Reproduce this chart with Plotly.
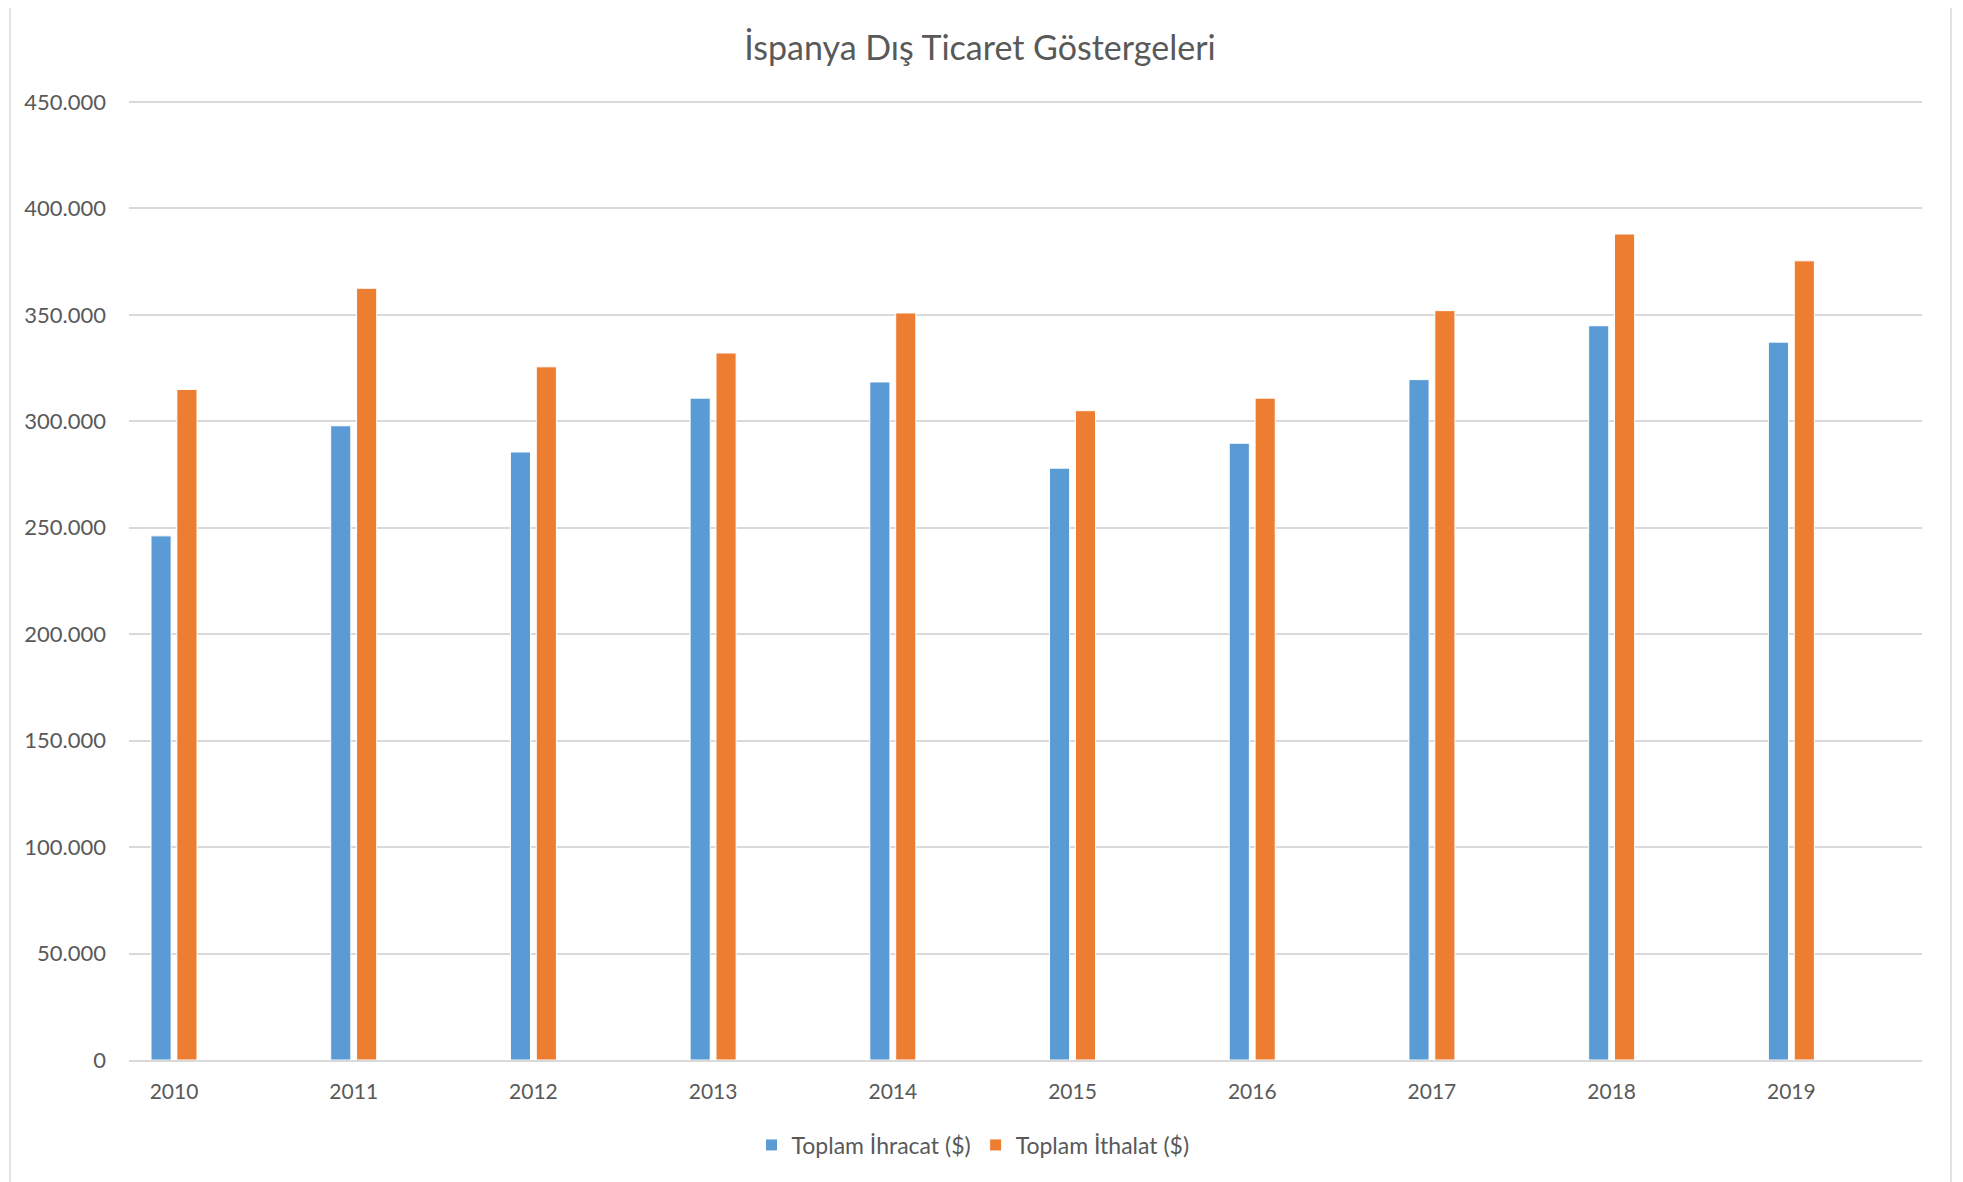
import plotly.graph_objects as go

years = [2010, 2011, 2012, 2013, 2014, 2015, 2016, 2017, 2018, 2019]
year_labels = [str(y) for y in years]
ihracat = [246200, 297900, 285600, 310900, 318500, 278000, 289700, 319600, 344900, 337200]
ithalat = [315000, 362500, 325600, 332100, 350900, 305000, 310900, 352000, 388000, 375400]
y_ticks = [0, 50000, 100000, 150000, 200000, 250000, 300000, 350000, 400000, 450000]

names = ["Toplam İhracat ($)", "Toplam İthalat ($)"]
colors = ["#5b9bd5", "#ed7d31"]

FONT = "Lato, Open Sans, sans-serif"
GRAY = "#595959"

fig = go.Figure()
fig.add_trace(go.Bar(x=years, y=ihracat, name=names[0],
                     marker=dict(color=colors[0], line=dict(color="white", width=1)),
                     offset=-0.128, width=0.112))
fig.add_trace(go.Bar(x=years, y=ithalat, name=names[1],
                     marker=dict(color=colors[1], line=dict(color="white", width=1)),
                     offset=0.016, width=0.112))

OFF = 8  # page body margin
W, H = 1963 - OFF, 1182 - OFF
PL, PR, PT, PB = 129, 1922, 100, 1060  # plot area in page pixels (450.000 line at 102)
ml, mr, mt, mb = PL - OFF, 1963 - PR, PT - OFF, (OFF + H) - PB
pw, ph = PR - PL, PB - PT
YMAX = 450000 * ph / (PB - 102)

fig.update_layout(
    width=W, height=H,
    margin=dict(l=ml, r=mr, t=mt, b=mb, pad=0),
    paper_bgcolor="white", plot_bgcolor="white",
    barmode="overlay",
    separators=",.",
    font=dict(family=FONT, color=GRAY, size=22),
    title=dict(text="İspanya Dış Ticaret Göstergeleri", x=(980 - OFF) / W, xref="container", xanchor="center",
               y=1 - (48 - OFF) / H, yref="container", yanchor="middle",
               font=dict(family=FONT, size=34, color=GRAY)),
    xaxis=dict(range=[2010 - 0.2504, 2019 + 0.727], tickvals=years, ticktext=year_labels,
               showgrid=False, zeroline=False, showline=True, linecolor="#d9d9d9", linewidth=1.5,
               ticks="", ticklabelstandoff=12, tickfont=dict(size=21, color=GRAY)),
    yaxis=dict(range=[0, YMAX], tickvals=y_ticks, tickformat=",.0f",
               showgrid=True, gridcolor="#d9d9d9", gridwidth=1.5, zeroline=False, showline=False,
               ticks="", ticklabelstandoff=22, tickfont=dict(size=22, color=GRAY)),
    legend=dict(orientation="h", x=(973 - OFF) / W, xref="container", xanchor="center",
                y=1 - (1145 - OFF) / H, yref="container", yanchor="middle",
                font=dict(size=23, color=GRAY), itemwidth=30, traceorder="normal"),
    showlegend=True,
)

fig.add_shape(type="rect", xref="paper", yref="paper",
              x0=(10 - PL) / pw, x1=(1951 - PL) / pw,
              y0=(PB - 1200) / ph, y1=(PB - 4) / ph,
              line=dict(color="#d9d9d9", width=1.5), fillcolor="rgba(0,0,0,0)", layer="below")

fig.write_html("out.html")
